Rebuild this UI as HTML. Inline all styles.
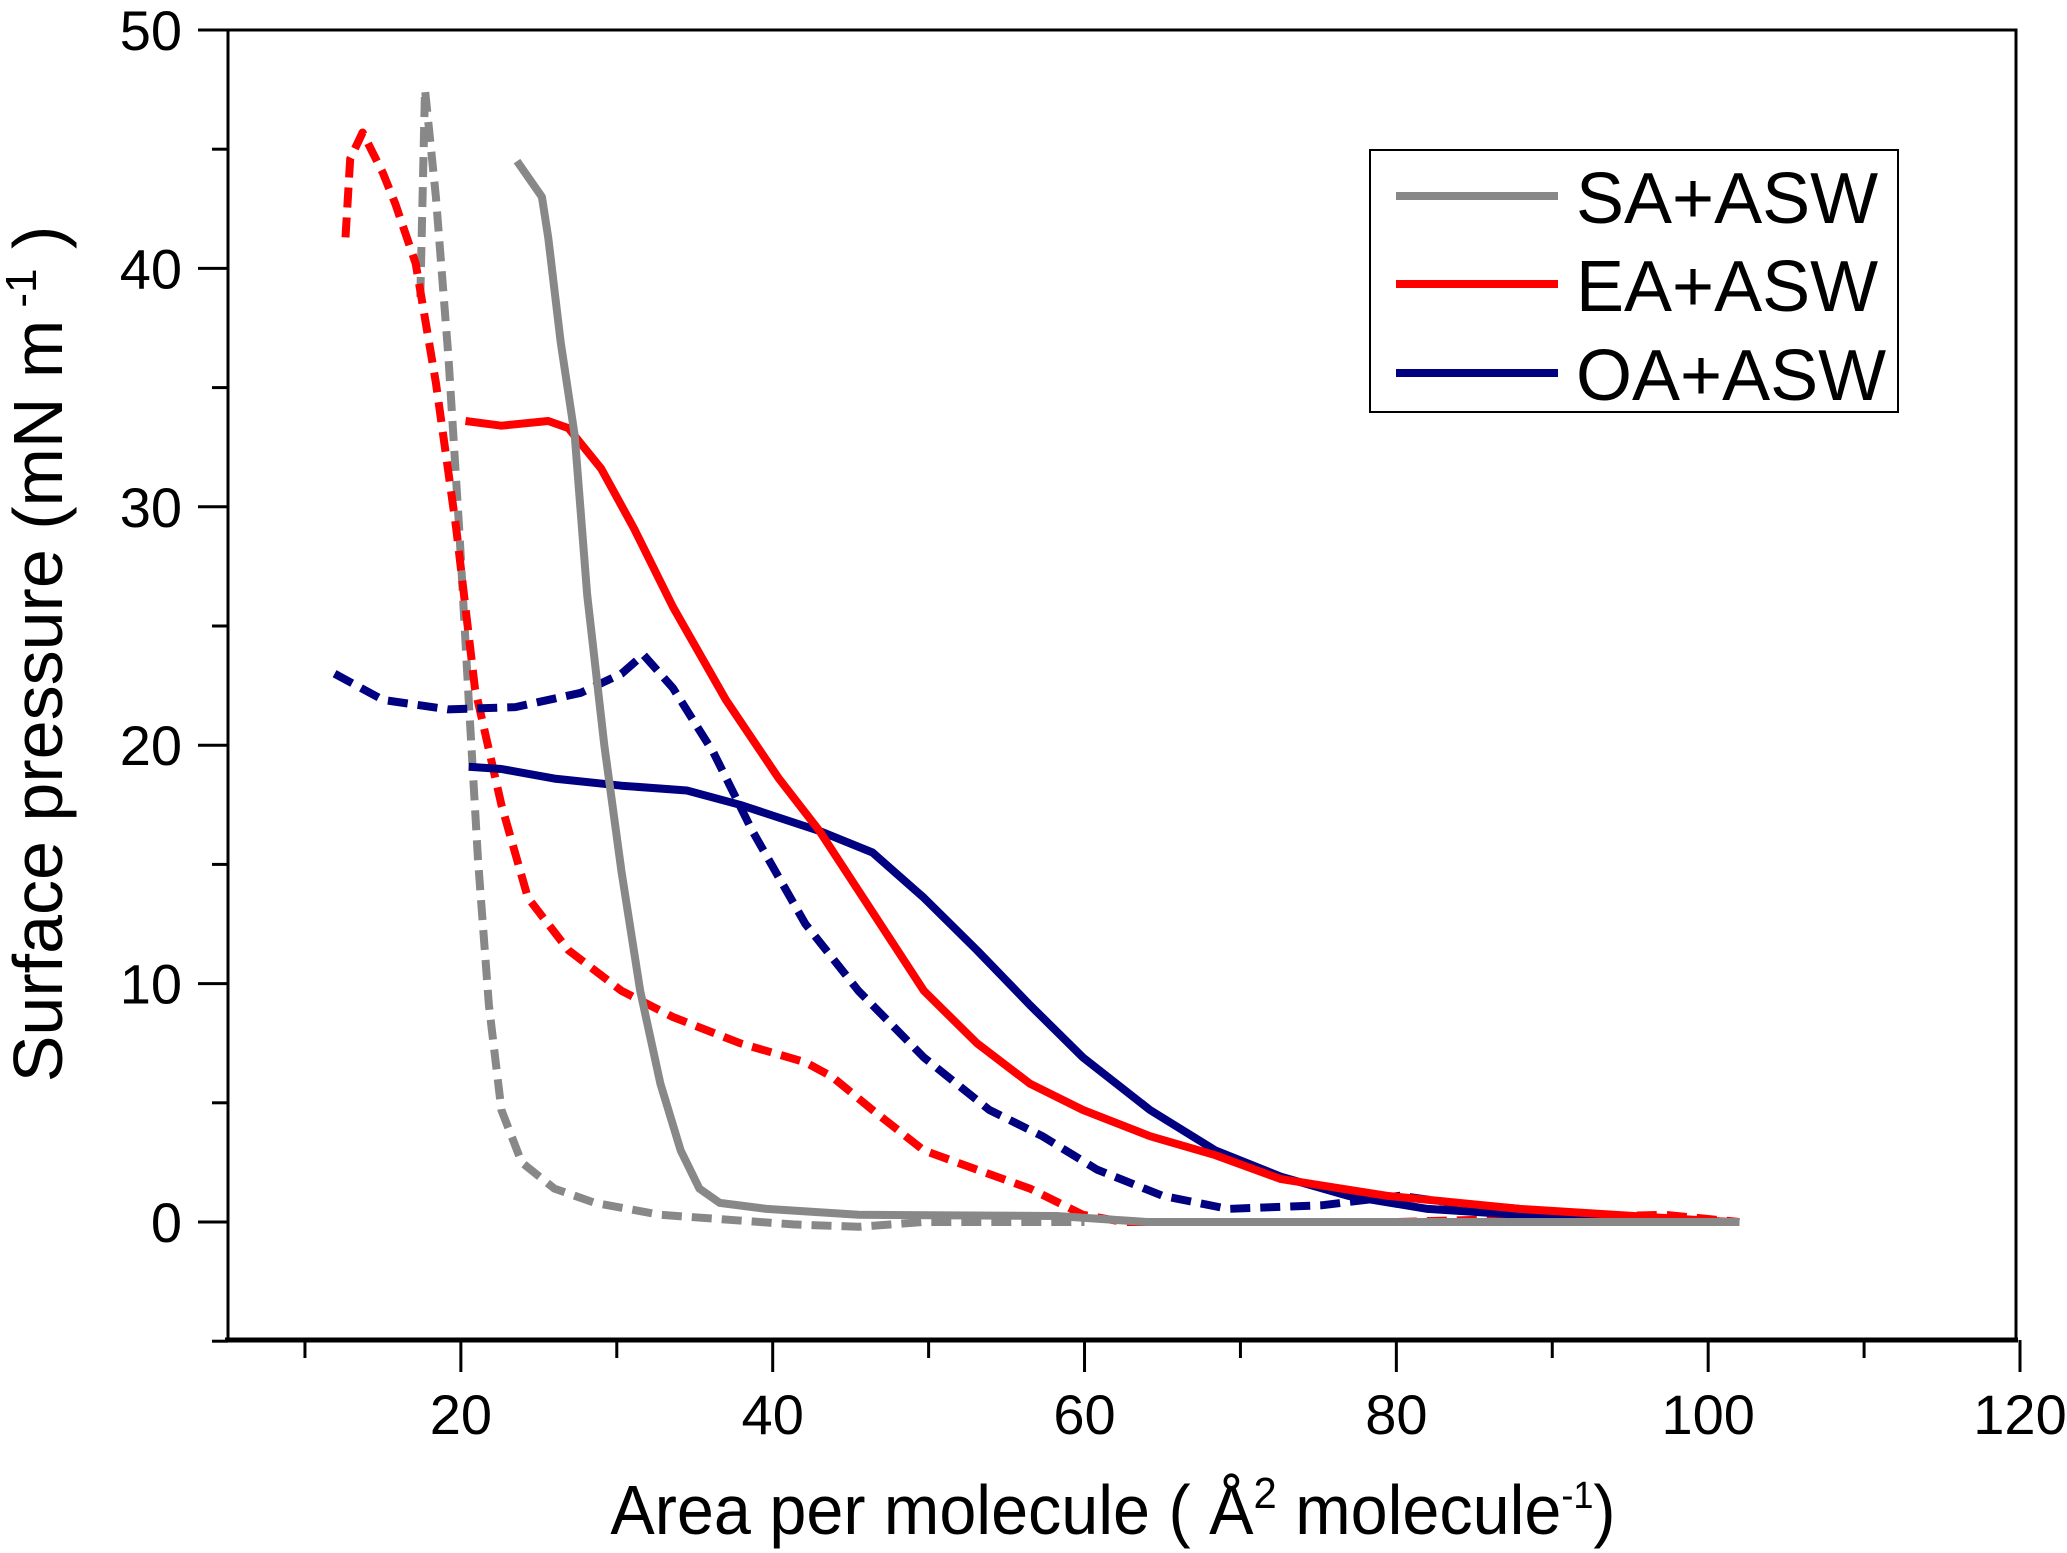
<!DOCTYPE html>
<html><head><meta charset="utf-8"><style>
html,body{margin:0;padding:0;background:#fff;}
svg{display:block;font-family:"Liberation Sans",sans-serif;}
</style></head><body>
<svg id="chart" width="2067" height="1553" viewBox="0 0 2067 1553" xmlns="http://www.w3.org/2000/svg">
<rect x="0" y="0" width="2067" height="1553" fill="#fff"/>
<g id="series"></g>
<rect x="228" y="30" width="1788" height="1310" fill="none" stroke="#000" stroke-width="3"/>
<line x1="225" y1="1340" x2="2018" y2="1340" stroke="#000" stroke-width="5"/>
<g id="axes"></g>
<text x="1113" y="1534" font-size="70" text-anchor="middle" transform="translate(1113,0) scale(0.95,1) translate(-1113,0)">Area per molecule ( Å<tspan font-size="44" dy="-26">2</tspan><tspan dy="26">  molecule</tspan><tspan font-size="38" dy="-26">-1</tspan><tspan dy="26">)</tspan></text>
<text transform="translate(62,654) rotate(-90)" font-size="70" text-anchor="middle">Surface pressure (mN m<tspan font-size="44" dy="-26"> -1</tspan><tspan dy="26"> )</tspan></text>
<g>
<rect x="1370" y="150" width="528" height="262" fill="#fff" stroke="#000" stroke-width="2"/>
<line x1="1396" y1="196" x2="1558" y2="196" stroke="#888" stroke-width="8"/>
<text x="1576" y="223" font-size="72">SA+ASW</text>
<line x1="1396" y1="284" x2="1558" y2="284" stroke="#ff0000" stroke-width="8"/>
<text x="1576" y="311" font-size="72">EA+ASW</text>
<line x1="1396" y1="373" x2="1558" y2="373" stroke="#000080" stroke-width="8"/>
<text x="1576" y="400" font-size="72">OA+ASW</text>
</g>
</svg>
<script>
const xTicks = [20, 40, 60, 80, 100, 120];
const xMinor = [10, 30, 50, 70, 90, 110];
const yTicks = [0, 10, 20, 30, 40, 50];
const yMinor = [-5, 5, 15, 25, 35, 45];
const saSolidX = [23.6,25.2,25.6,26.4,27.3,28.1,29.2,30.3,31.5,32.8,34.1,35.3,36.6,39.6,45.5,58.2,64,102];
const saSolidY = [44.5,43,41.3,36.9,33,26.3,20,14.7,9.7,5.8,3,1.4,0.8,0.55,0.3,0.25,0,0];
const saDashX = [17.4,17.7,18.4,19.2,19.9,20.5,21.1,21.8,22.6,23.9,26,28.6,32.8,41.3,45.5,49.7,60];
const saDashY = [38.8,47.5,43,36.3,29,21.9,15.2,9.1,4.7,2.5,1.4,0.8,0.3,-0.1,-0.2,0,0];
const eaSolidX = [20.3,22.6,25.6,26.9,29,31.1,33.6,37,40.4,43,46.4,49.7,53.1,56.5,59.9,64.2,68.4,72.6,79.4,87.9,101.4];
const eaSolidY = [33.6,33.4,33.6,33.3,31.6,29.1,25.8,21.9,18.6,16.4,13,9.7,7.5,5.8,4.7,3.6,2.8,1.8,1.1,0.55,0];
const eaDashX = [12.6,12.9,13.7,15,15.8,17.1,18.4,19.7,20.9,22.6,24.3,26.9,30.3,33.6,37.9,42.1,43.8,46.4,49.7,53.1,56.5,59.9,62.5,80,97.2,102];
const eaDashY = [41.3,44.6,45.7,44,42.7,40.2,35.2,29.1,22.4,17.5,13.6,11.4,9.7,8.6,7.5,6.7,6.1,4.7,3,2.2,1.4,0.3,0,0,0.3,0];
const oaSolidX = [20.5,22.6,26,30.3,34.5,37.9,43,46.4,49.7,53.1,56.5,59.9,64.2,68.4,72.6,76.9,82,87.9,101.4];
const oaSolidY = [19.1,19,18.6,18.3,18.1,17.5,16.4,15.5,13.6,11.4,9.1,6.9,4.7,3,1.9,1.1,0.55,0.3,0];
const oaDashX = [11.9,15,19.2,23.5,27.7,30.3,31.7,33.6,36.2,38.7,42.1,45.5,49.7,53.9,57.3,60.8,65,69.2,75.2,80.2,83.6,92.1,100.6];
const oaDashY = [23,21.9,21.5,21.6,22.2,23,23.8,22.4,19.7,16.4,12.5,9.7,6.9,4.7,3.6,2.2,1.1,0.55,0.7,1.1,0.8,0.3,0];

const NS = 'http://www.w3.org/2000/svg';
function sx(v){ return 227 + (v - 5) * (2020 - 227) / 115; }
function sy(v){ return 1222 - v * (1222 - 30) / 50; }
const axes = document.getElementById('axes');
const series = document.getElementById('series');
function mk(tag, attrs, parent){ const e = document.createElementNS(NS, tag); for (const k in attrs) e.setAttribute(k, attrs[k]); parent.appendChild(e); return e; }
xTicks.forEach(v => {
  const t = mk('line', {x1: sx(v), x2: sx(v), y1: 1340, y2: 1372, stroke: '#000', 'stroke-width': 3}, axes);
  
  
  const l = mk('text', {x: sx(v), y: 1434, 'font-size': 56, 'text-anchor': 'middle'}, axes);
  l.textContent = v;
  
  
});
xMinor.forEach(v => {
  const t = mk('line', {x1: sx(v), x2: sx(v), y1: 1340, y2: 1358, stroke: '#000', 'stroke-width': 3}, axes);
  
  
});
yTicks.forEach(v => {
  const t = mk('line', {x1: 198, x2: 228, y1: sy(v), y2: sy(v), stroke: '#000', 'stroke-width': 3}, axes);
  
  
  const l = mk('text', {x: 182, y: sy(v) + 20, 'font-size': 56, 'text-anchor': 'end'}, axes);
  l.textContent = v;
  
  
});
yMinor.forEach(v => {
  const t = mk('line', {x1: 212, x2: 228, y1: sy(v), y2: sy(v), stroke: '#000', 'stroke-width': 3}, axes);
  
  
});
function draw(xs, ys, color, dashed, name){
  const d = xs.map((x, i) => (i ? 'L' : 'M') + sx(x).toFixed(1) + ',' + sy(ys[i]).toFixed(1)).join(' ');
  const p = mk('path', {d: d, fill: 'none', stroke: color, 'stroke-width': 8, 'stroke-linejoin': 'round'}, series);
  if (dashed) p.setAttribute('stroke-dasharray', '20 10');
  
  
}
draw(saDashX, saDashY, '#888888', true, 'sa-dashed-curve');
draw(eaDashX, eaDashY, '#ff0000', true, 'ea-dashed-curve');
draw(oaDashX, oaDashY, '#000080', true, 'oa-dashed-curve');
draw(oaSolidX, oaSolidY, '#000080', false, 'oa-solid-curve');
draw(eaSolidX, eaSolidY, '#ff0000', false, 'ea-solid-curve');
draw(saSolidX, saSolidY, '#888888', false, 'sa-solid-curve');
</script>
</body></html>
